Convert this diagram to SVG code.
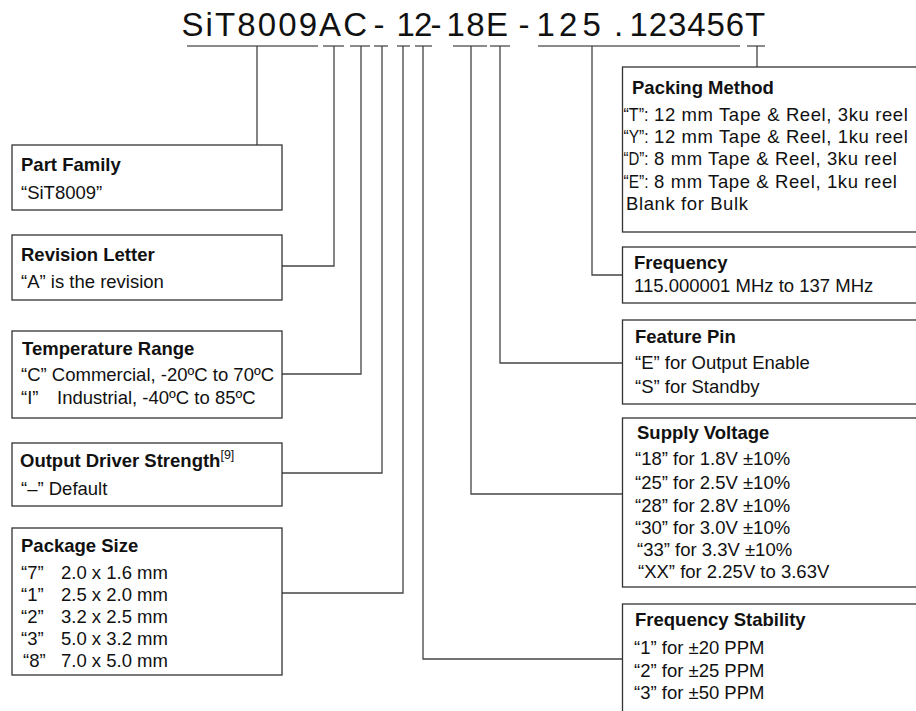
<svg xmlns="http://www.w3.org/2000/svg" width="916" height="711" viewBox="0 0 916 711">
<style>
.t{font-family:"Liberation Sans",Arial,sans-serif;fill:#111}
.pn{font-size:33px}
.h{font-size:18.5px;font-weight:bold}
.b{font-size:18.5px}
.sp{letter-spacing:0.6px}
.box{fill:#fff;stroke:#333;stroke-width:1.3}
.ln{fill:none;stroke:#444;stroke-width:1.3}
.ul{fill:none;stroke:#666;stroke-width:1.3}
</style>
<rect width="916" height="711" fill="#fff"/>
<g id="partnumber">
<text class="t pn" y="36" x="181.5 205.6 215 237.3 257.75 278.2 298.65 319.1 343.2 373.6 396.4 414 430.6 446.4 466.3 486.1 505 518.6 536.4 559 582.6 614 629.5 648.75 668 687.25 706.5 725.75 745">SiT8009AC-12-18E -125.123456T</text>
</g>
<g id="connectors">
<path class="ul" d="M187 46H318M323 46H344M350 46H370M374 46H388M397 46H410M415 46H432M453 46H487M490 46H510M538 46H740M747 46H765"/>
<path class="ln" d="M257 46V145M334 46V266H282M361 46V374H282M382 46V473H282M403 46V593H282M423 46V659H622.5M471 46V494H622.5M500 46V363H622.5M592 46V275H622.5M757 46V67"/>
</g>
<g id="part-family">
<rect class="box" x="12" y="145" width="270" height="65"/>
<text class="t h" x="21" y="171">Part Family</text>
<text class="t b" x="21" y="199">“SiT8009”</text>
</g>
<g id="revision-letter">
<rect class="box" x="12" y="235" width="270" height="65"/>
<text class="t h" x="21" y="261">Revision Letter</text>
<text class="t b" x="21" y="288">“A” is the revision</text>
</g>
<g id="temperature-range">
<rect class="box" x="12" y="331" width="270" height="87"/>
<text class="t h" x="22" y="355">Temperature Range</text>
<text class="t b" x="21" y="381">“C” Commercial, -20ºC to 70ºC</text>
<text class="t b" x="21" y="404">“I”</text>
<text class="t b" x="57" y="404">Industrial, -40ºC to 85ºC</text>
</g>
<g id="output-driver-strength">
<rect class="box" x="12" y="443" width="270" height="63"/>
<text class="t h" x="20" y="467">Output Driver Strength<tspan font-weight="normal" font-size="12.5px" dy="-8">[9]</tspan></text>
<text class="t b" x="21" y="495">“–” Default</text>
</g>
<g id="package-size">
<rect class="box" x="12" y="528" width="270" height="147"/>
<text class="t h" x="21" y="552">Package Size</text>
<text class="t b" x="21" y="579">“7”</text><text class="t b" x="61" y="579">2.0 x 1.6 mm</text>
<text class="t b" x="21" y="601">“1”</text><text class="t b" x="61" y="601">2.5 x 2.0 mm</text>
<text class="t b" x="21" y="623">“2”</text><text class="t b" x="61" y="623">3.2 x 2.5 mm</text>
<text class="t b" x="21" y="645">“3”</text><text class="t b" x="61" y="645">5.0 x 3.2 mm</text>
<text class="t b" x="23" y="667">“8”</text><text class="t b" x="61" y="667">7.0 x 5.0 mm</text>
</g>
<g id="packing-method">
<rect class="box" x="622.5" y="67" width="310" height="165"/>
<text class="t h" x="632" y="94">Packing Method</text>
<text class="t b" x="623.5" y="121" textLength="25" lengthAdjust="spacingAndGlyphs">“T”:</text>
<text class="t b sp" x="654" y="121">12 mm Tape &amp; Reel, 3ku reel</text>
<text class="t b" x="623.5" y="143" textLength="25" lengthAdjust="spacingAndGlyphs">“Y”:</text>
<text class="t b sp" x="654" y="143">12 mm Tape &amp; Reel, 1ku reel</text>
<text class="t b" x="623.5" y="165" textLength="25" lengthAdjust="spacingAndGlyphs">“D”:</text>
<text class="t b sp" x="654" y="165">8 mm Tape &amp; Reel, 3ku reel</text>
<text class="t b" x="623.5" y="188" textLength="25" lengthAdjust="spacingAndGlyphs">“E”:</text>
<text class="t b sp" x="654" y="188">8 mm Tape &amp; Reel, 1ku reel</text>
<text class="t b sp" x="626" y="210">Blank for Bulk</text>
</g>
<g id="frequency">
<rect class="box" x="622.5" y="247" width="310" height="56"/>
<text class="t h" x="634" y="269">Frequency</text>
<text class="t b" x="634" y="292">115.000001 MHz to 137 MHz</text>
</g>
<g id="feature-pin">
<rect class="box" x="622.5" y="320" width="310" height="84"/>
<text class="t h" x="635" y="343">Feature Pin</text>
<text class="t b" x="635" y="369">“E” for Output Enable</text>
<text class="t b" x="635" y="393">“S” for Standby</text>
</g>
<g id="supply-voltage">
<rect class="box" x="622.5" y="418" width="310" height="169"/>
<text class="t h" x="637" y="439">Supply Voltage</text>
<text class="t b" x="635" y="465">“18” for 1.8V ±10%</text>
<text class="t b" x="635" y="489">“25” for 2.5V ±10%</text>
<text class="t b" x="635" y="512">“28” for 2.8V ±10%</text>
<text class="t b" x="635" y="534">“30” for 3.0V ±10%</text>
<text class="t b" x="637" y="556">“33” for 3.3V ±10%</text>
<text class="t b" x="638" y="578">“XX” for 2.25V to 3.63V</text>
</g>
<g id="frequency-stability">
<rect class="box" x="622.5" y="604" width="310" height="130"/>
<text class="t h" x="635" y="626">Frequency Stability</text>
<text class="t b" x="634" y="654">“1” for ±20 PPM</text>
<text class="t b" x="634" y="677">“2” for ±25 PPM</text>
<text class="t b" x="634" y="699">“3” for ±50 PPM</text>
</g>
</svg>
